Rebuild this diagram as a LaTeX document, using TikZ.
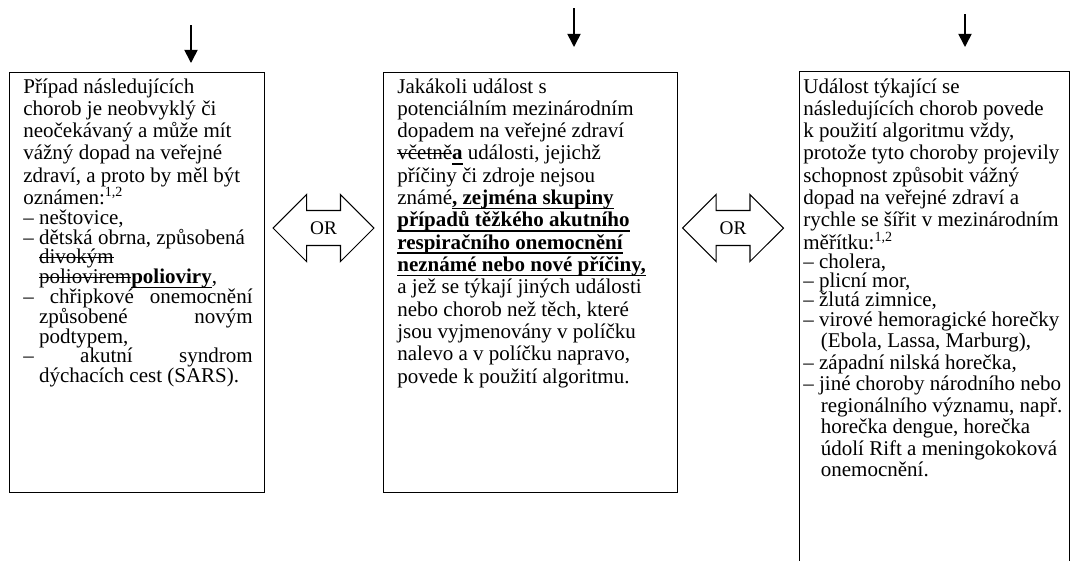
\documentclass[tikz,border=0pt]{standalone}
\usepackage{fontspec}
\setmainfont{Liberation Serif}
\usepackage{tikz}
\usetikzlibrary{arrows.meta,shapes.arrows}
\newsavebox{\markbox}
\newcommand{\strk}[1]{\leavevmode\sbox{\markbox}{#1}\rlap{\rule[0.28em]{\wd\markbox}{0.5pt}}\usebox{\markbox}}
\newcommand{\undl}[1]{\leavevmode\sbox{\markbox}{\textbf{#1}}\rlap{\rule[-0.22em]{\wd\markbox}{0.8pt}}\usebox{\markbox}}
\tikzset{
    plain-box/.style = {draw, line width=0.8pt, rectangle, anchor=north west, inner sep=0pt},
    text-block/.style = {anchor=base west, inner sep=0pt, font=\fontsize{12pt}{12.75pt}\selectfont},
    or-arrow/.style = {draw, line width=0.6pt, double arrow, double arrow head extend=9.15pt, minimum height=57.7pt, inner xsep=2pt, inner ysep=5.75pt, text height=7.9pt, text depth=0pt, font=\fontsize{11pt}{12pt}\selectfont},
    down-arrow/.style = {line width=0.9pt, -{Triangle[length=7.5pt,width=7.5pt]}},
}

\begin{document}
\begin{tikzpicture}[x=0.5714pt, y=-0.5714pt]
\useasboundingbox (0,0) rectangle (1071,560);

% the three boxes
\node[plain-box, minimum width=145.7pt, minimum height=240pt] (boxL) at (9,72) {};
\node[plain-box, minimum width=168pt, minimum height=240pt] (boxM) at (383,72) {};
\node[plain-box, minimum width=154.3pt, minimum height=283pt] (boxR) at (799,71) {};

\node[text-block] (txtL) at (23,93) {\begin{minipage}[t]{131pt}\raggedright\lineskiplimit=-100pt
Případ následujících\\
chorob je neobvyklý či\\
neočekávaný a může mít\\
vážný dopad na veřejné\\
zdraví, a proto by měl být\\
oznámen:\textsuperscript{1,2}\par
\baselineskip=11.3pt
– neštovice,\\
– dětská obrna, způsobená\\
\hspace*{9pt}\strk{divokým}\\
\hspace*{9pt}\strk{poliovirem}\undl{polioviry},\\
\makebox[\linewidth][s]{– chřipkové onemocnění}\\
\hspace*{9pt}\makebox[122pt][s]{způsobené novým}\\
\hspace*{9pt}podtypem,\\
\makebox[\linewidth][s]{– akutní syndrom}\\
\hspace*{9pt}dýchacích cest (SARS).
\end{minipage}};

\node[text-block] (txtM) at (397,93) {\begin{minipage}[t]{165pt}\raggedright\lineskiplimit=-100pt
Jakákoli událost s\\
potenciálním mezinárodním\\
dopadem na veřejné zdraví\\
\strk{včetně}\undl{a} události, jejichž\\
příčiny či zdroje nejsou\\
známé\undl{, zejména skupiny}\\
\undl{případů těžkého akutního}\\
\undl{respiračního onemocnění}\\
\undl{neznámé nebo nové příčiny,}\\
a jež se týkají jiných události\\
nebo chorob než těch, které\\
jsou vyjmenovány v políčku\\
nalevo a v políčku napravo,\\
povede k použití algoritmu.
\end{minipage}};

\node[text-block] (txtR) at (803,93) {\begin{minipage}[t]{155pt}\raggedright\lineskiplimit=-100pt
Událost týkající se\\
následujících chorob povede\\
k použití algoritmu vždy,\\
protože tyto choroby projevily\\
schopnost způsobit vážný\\
dopad na veřejné zdraví a\\
rychle se šířit v mezinárodním\\
měřítku:\textsuperscript{1,2}\par
\baselineskip=11pt
– cholera,\\
– plicní mor,\\
– žlutá zimnice,\\
– virové hemoragické horečky\par
\baselineskip=12.3pt
\hspace*{10pt}(Ebola, Lassa, Marburg),\\
– západní nilská horečka,\\
– jiné choroby národního nebo\\
\hspace*{10pt}regionálního významu, např.\\
\hspace*{10pt}horečka dengue, horečka\\
\hspace*{10pt}údolí Rift a meningokoková\\
\hspace*{10pt}onemocnění.
\end{minipage}};

% OR arrows between the boxes
\node[or-arrow] (orL) at (323.5,228) {OR};
\node[or-arrow] (orR) at (733,228) {OR};

% incoming arrows
\coordinate (inL) at (191,25);
\coordinate (tipL) at (191,63);
\coordinate (inM) at (574,8);
\coordinate (tipM) at (574,47);
\coordinate (inR) at (965,14);
\coordinate (tipR) at (965,47);
\draw[down-arrow] (inL) -- (tipL);
\draw[down-arrow] (inM) -- (tipM);
\draw[down-arrow] (inR) -- (tipR);
\end{tikzpicture}
\end{document}
